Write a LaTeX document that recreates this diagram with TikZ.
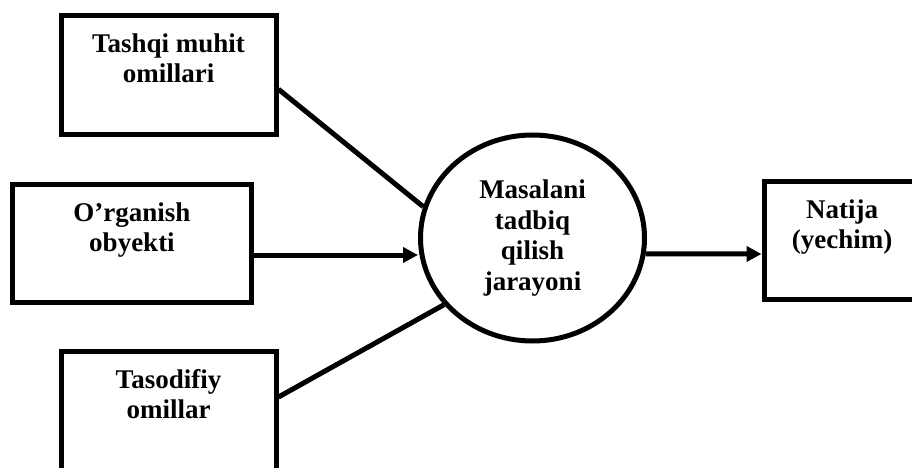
\documentclass[tikz,border=0pt]{standalone}
\usepackage{fontspec}
\setmainfont{Liberation Serif}
\usetikzlibrary{shapes.geometric}
\usetikzlibrary{arrows.meta}

\begin{document}
\begin{tikzpicture}[x=1pt,y=-1pt,
        factor/.style={draw,line width=5pt,inner sep=0pt,font=\fontsize{27}{30}\selectfont\bfseries},
        process/.style={draw,ellipse,line width=5pt,inner sep=0pt,minimum width=224pt,minimum height=206pt,
            align=center,font=\fontsize{27}{30.5}\selectfont\bfseries},
        link/.style={line width=5pt},
        flow/.style={line width=5pt,-{Triangle[length=15pt,width=15pt]}}]
                \useasboundingbox (0,0) rectangle (912,468);
                \clip (0,0) rectangle (912,468);

                \foreach \n/\x/\y/\w/\h/\t in {env/168.5/75.25/215/118.5/{Tashqi muhit\\omillari},
                                                  obj/132/243.5/239/118/{O’rganish\\obyekti},
                                                  rand/168.5/412/215/122/{Tasodifiy\\omillar},
                                                  res/842/240/156/118/{Natija\\(yechim)}}
                {
                    \node[factor] (\n) at (\x,\y) {\parbox[c][\h pt][t]{\w pt}{\centering\rule{0pt}{37pt}\t}};
                }

                \node[process] (proc) at (532.5,238) {Masalani\\tadbiq\\qilish\\jarayoni};

                \draw[link] ([yshift=-14pt]env.east) -- (proc.164);
                \draw[flow] ([yshift=-11.5pt]obj.east) -- ([yshift=-17pt]proc.west);
                \draw[link] ([yshift=15pt]rand.east) -- (proc.217);
                \draw[flow] (proc.352) -- ([yshift=-14pt]res.west);
            \end{tikzpicture}
\end{document}
